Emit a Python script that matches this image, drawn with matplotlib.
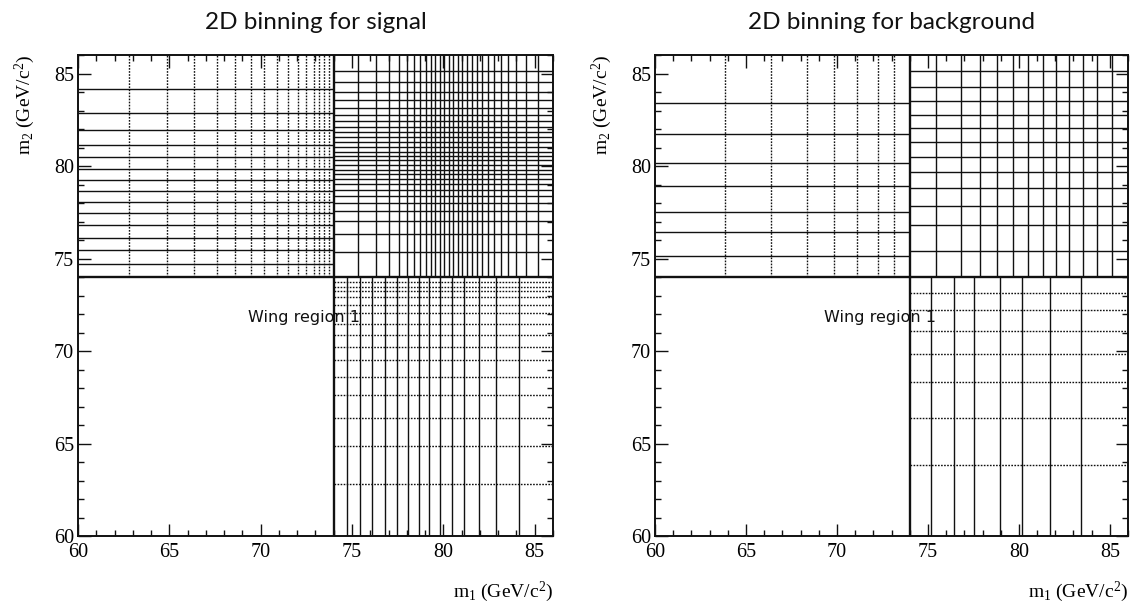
import matplotlib
matplotlib.use("Agg")
import matplotlib.pyplot as plt
from matplotlib.ticker import MultipleLocator

# bin edges (GeV/c^2); the binning is symmetric in m1 <-> m2
LO, SPLIT, HI = 60.0, 74.0, 86.0

SIG_OUTER = [62.79, 64.87, 66.37, 67.60, 68.62, 69.49, 70.20, 70.89,
             71.47, 72.04, 72.48, 72.90, 73.22, 73.48, 73.72]
SIG_WING_INNER = [74.72, 75.46, 76.12, 76.82, 77.48, 78.07, 78.67, 79.23,
                  79.83, 80.48, 81.15, 81.97, 82.87, 84.14]
SIG_CORE = [75.33, 76.30, 77.02, 77.57, 78.02, 78.38, 78.72, 79.03, 79.30,
            79.55, 79.81, 80.06, 80.31, 80.55, 80.78, 81.03, 81.30, 81.57,
            81.83, 82.10, 82.43, 82.78, 83.14, 83.55, 84.00, 84.52, 85.16]

BKG_OUTER = [63.86, 66.40, 68.35, 69.83, 71.10, 72.24, 73.12]
BKG_WING_INNER = [75.15, 76.44, 77.52, 78.94, 80.17, 81.73, 83.43]
BKG_CORE = [75.43, 76.84, 77.85, 78.81, 79.68, 80.50, 81.30, 82.05,
            82.77, 83.51, 84.29, 85.12]

TITLES = ["2D binning for signal", "2D binning for background"]
WING_LABEL = "Wing region 1"
XTICKS = [60, 65, 70, 75, 80, 85]

DOT = (0, (1.2, 1.0))
INK = "#111111"
serif = "Liberation Serif"

plt.rcParams["mathtext.fontset"] = "custom"
plt.rcParams["mathtext.rm"] = serif
plt.rcParams["mathtext.it"] = serif + ":italic"


def draw_binning(ax, outer, wing_inner, core):
    kw = dict(color=INK, linewidth=1.0)
    # upper-left wing: m1 in [60, 74], m2 in [74, 86]
    ax.vlines(outer, SPLIT, HI, linestyles=DOT, **kw)
    ax.hlines(wing_inner, LO, SPLIT, linestyles="solid", **kw)
    # lower-right wing: m1 in [74, 86], m2 in [60, 74]
    ax.hlines(outer, SPLIT, HI, linestyles=DOT, **kw)
    ax.vlines(wing_inner, LO, SPLIT, linestyles="solid", **kw)
    # core region: both masses above 74
    ax.vlines(core, SPLIT, HI, linestyles="solid", **kw)
    ax.hlines(core, SPLIT, HI, linestyles="solid", **kw)
    # region boundaries
    ax.hlines([SPLIT], LO, HI, color=INK, linewidth=1.7)
    ax.vlines([SPLIT], LO, HI, color=INK, linewidth=1.7)


fig = plt.figure(figsize=(11.36, 6.05), dpi=100)
axes = [fig.add_axes([0.0687, 0.114, 0.418, 0.795]),
        fig.add_axes([0.5766, 0.114, 0.4164, 0.795])]
binnings = [(SIG_OUTER, SIG_WING_INNER, SIG_CORE),
            (BKG_OUTER, BKG_WING_INNER, BKG_CORE)]

for ax, title, (outer, inner, core) in zip(axes, TITLES, binnings):
    draw_binning(ax, outer, inner, core)
    ax.set_xlim(LO, HI)
    ax.set_ylim(LO, HI)
    ax.set_xticks(XTICKS)
    ax.set_yticks(XTICKS)
    ax.xaxis.set_minor_locator(MultipleLocator(1))
    ax.yaxis.set_minor_locator(MultipleLocator(1))
    ax.tick_params(which="both", direction="in", top=True, right=True,
                   color=INK, width=1.0)
    ax.tick_params(which="major", length=9, labelsize=14.5)
    ax.tick_params(axis="x", which="major", pad=5)
    ax.tick_params(axis="y", which="major", pad=3)
    ax.tick_params(which="minor", length=4.5)
    for lab in ax.get_xticklabels() + ax.get_yticklabels():
        lab.set_fontfamily(serif)
    for sp in ax.spines.values():
        sp.set_linewidth(1.4)
        sp.set_color(INK)
    ax.set_title(title, fontsize=17.5, fontfamily="Lato", fontweight="normal",
                 pad=19, color=INK)
    ax.text(69.3, 71.8, WING_LABEL, fontsize=11.5, fontfamily="DejaVu Sans",
            va="center", ha="left", color=INK)
    ax.set_xlabel(r"m$_1$ (GeV/c$^2$)", fontsize=14, fontfamily=serif,
                  loc="right", labelpad=13)
    ax.set_ylabel(r"m$_2$ (GeV/c$^2$)", fontsize=14, fontfamily=serif,
                  loc="top", labelpad=12)

fig.savefig("out.png", dpi=100, facecolor="white")
